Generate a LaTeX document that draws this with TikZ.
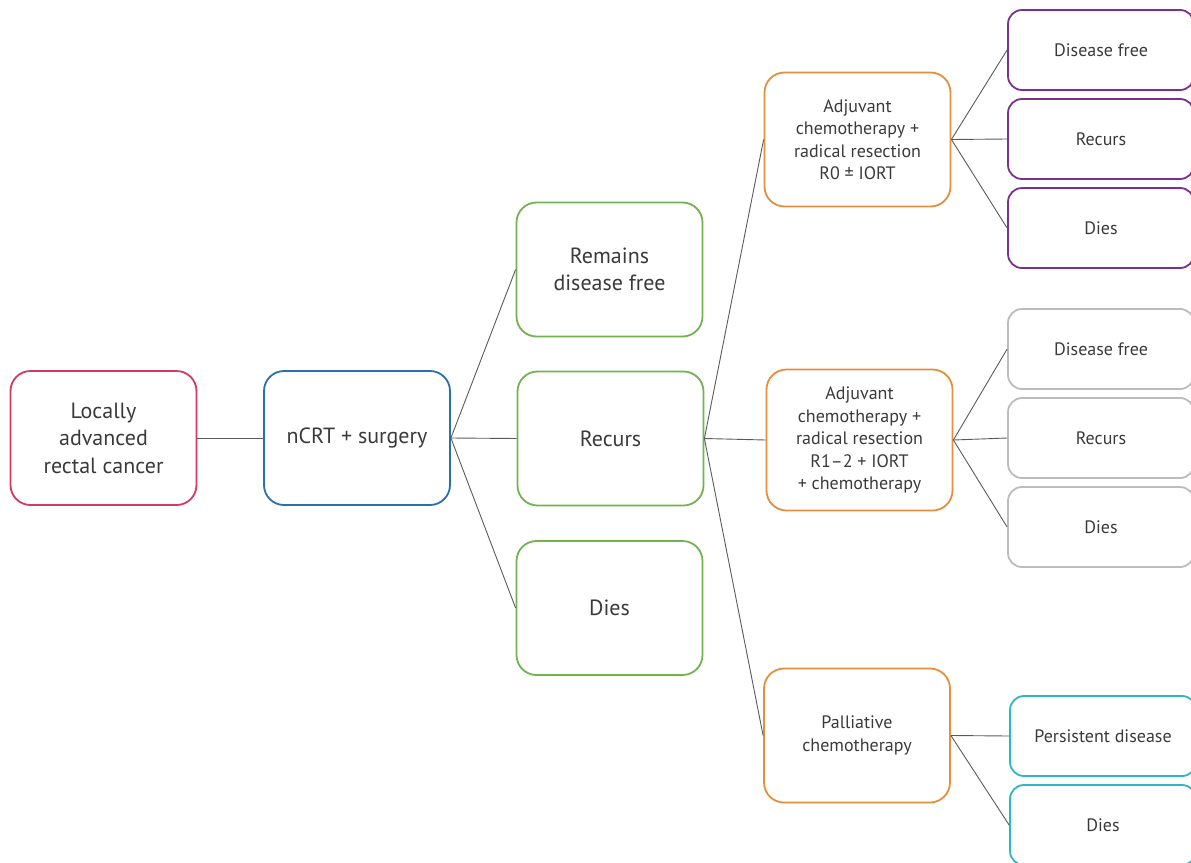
\documentclass[tikz,border=0pt]{standalone}
\usepackage{fontspec}
\setmainfont{PT Sans}
\usepackage{tikz}
\usetikzlibrary{positioning}
\definecolor{txt}{HTML}{3a3a3c}
\definecolor{linkgray}{HTML}{5a5a5a}
\definecolor{crimson}{HTML}{d4395f}
\definecolor{navy}{HTML}{2a6fae}
\definecolor{leaf}{HTML}{72b34f}
\definecolor{amber}{HTML}{e58f3d}
\definecolor{plum}{HTML}{7d2f8f}
\definecolor{ash}{HTML}{bcbcbc}
\definecolor{teal}{HTML}{2cb6c8}

\tikzset{
  bigbox/.style={draw,rounded corners=20pt,line width=1.8pt,minimum width=186pt,
    minimum height=134pt,align=center,text=txt,font=\fontsize{22}{27.5}\selectfont},
  midbox/.style={bigbox,font=\fontsize{18}{22.5}\selectfont},
  endbox/.style={draw,rounded corners=14pt,line width=1.8pt,minimum width=186pt,
    minimum height=80pt,align=center,text=txt,font=\fontsize{18}{22}\selectfont},
  link/.style={draw=linkgray,line width=0.9pt}
}

\begin{document}
\begin{tikzpicture}[x=1pt,y=-1pt]
  \useasboundingbox (0,0) rectangle (1191,862);
  % first two steps
  \node[bigbox,draw=crimson] (lar) at (103.5,438) {Locally\\advanced\\rectal cancer};
  \node[bigbox,draw=navy] (ncrt) at (357,438) {nCRT + surgery};
  % outcomes after surgery
  \node[bigbox,draw=leaf] (free) at (609.5,269.5) {Remains\\disease free};
  \node[bigbox,draw=leaf] (recurs) at (610.5,438.5) {Recurs};
  \node[bigbox,draw=leaf] (dies) at (609.5,608) {Dies};
  % treatment of recurrence
  \node[midbox,draw=amber] (rzero) at (857.5,139.5) {Adjuvant\\chemotherapy +\\radical resection\\R0 ± IORT};
  \node[midbox,draw=amber,minimum height=141pt] (rone) at (859.5,440) {Adjuvant\\chemotherapy +\\radical resection\\R1–2 + IORT\\+ chemotherapy};
  \node[midbox,draw=amber] (pall) at (857,735.5) {Palliative\\chemotherapy};
  % final outcomes
  \node[endbox,draw=plum] (rzfree) at (1101,50) {Disease free};
  \node[endbox,draw=plum] (rzrec) at (1101,139) {Recurs};
  \node[endbox,draw=plum] (rzdies) at (1101,228) {Dies};
  \node[endbox,draw=ash] (rofree) at (1101,349) {Disease free};
  \node[endbox,draw=ash] (rorec) at (1101,438) {Recurs};
  \node[endbox,draw=ash] (rodies) at (1101,527) {Dies};
  \node[endbox,draw=teal] (papers) at (1103,736) {Persistent disease};
  \node[endbox,draw=teal] (padies) at (1103,825) {Dies};
  % connectors
  \draw[link] (lar.east) -- (ncrt.west);
  \foreach \k in {free,recurs,dies} \draw[link] (ncrt.east) -- (\k.west);
  \foreach \k in {rzero,rone,pall} \draw[link] (recurs.east) -- (\k.west);
  \foreach \k in {rzfree,rzrec,rzdies} \draw[link] (rzero.east) -- (\k.west);
  \foreach \k in {rofree,rorec,rodies} \draw[link] (rone.east) -- (\k.west);
  \foreach \k in {papers,padies} \draw[link] (pall.east) -- (\k.west);
\end{tikzpicture}
\end{document}
